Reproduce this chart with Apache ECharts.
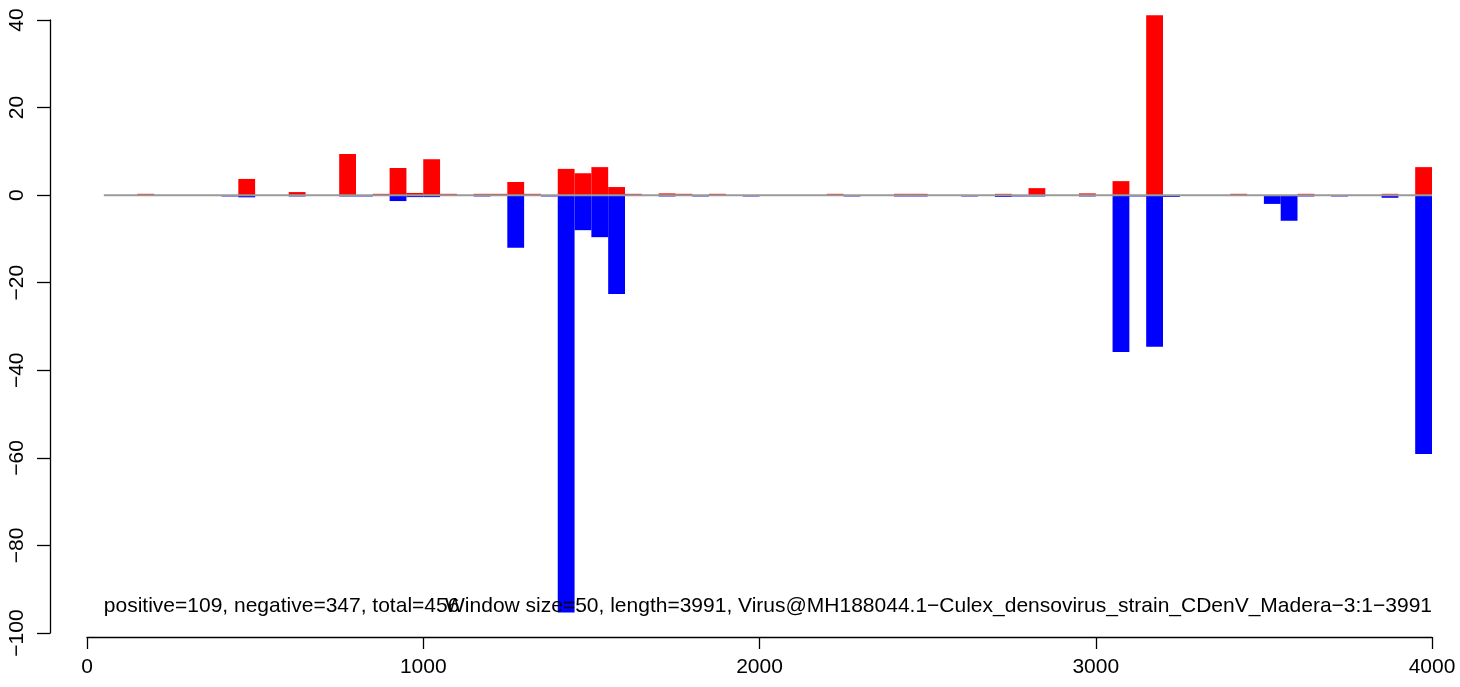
<!DOCTYPE html>
<html>
<head>
<meta charset="utf-8">
<script src="https://cdn.jsdelivr.net/npm/echarts@6/dist/echarts.min.js"></script>
<style>
html,body{margin:0;padding:0;background:#fff;}
#chart{width:1460px;height:687px;}
</style>
</head>
<body>
<div id="chart"></div>
<script>
// window starts (window size 50)
const windowStarts = [150, 400, 450, 600, 750, 800, 850, 900, 950, 1000, 1050, 1150, 1200, 1250, 1300, 1350,
  1400, 1450, 1500, 1550, 1600, 1700, 1750, 1800, 1850, 1950, 2200, 2250, 2400, 2450, 2600, 2700, 2750,
  2800, 2950, 3050, 3100, 3150, 3200, 3400, 3500, 3550, 3600, 3700, 3850, 3950];
const positiveValues = [0.3, 0, 3.7, 0.7, 9.4, 0, 0.3, 6.2, 0.5, 8.2, 0.3, 0.3, 0.3, 3.0, 0.3, 0,
  6.0, 5.0, 6.4, 1.85, 0.3, 0.4, 0.3, 0, 0.3, 0, 0.3, 0, 0.3, 0.3, 0, 0.3, 0,
  1.6, 0.4, 3.2, 0, 41.1, 0, 0.3, 0, 0, 0.3, 0, 0.3, 6.4];
const negativeValues = [0, -0.3, -0.5, -0.3, -0.3, -0.3, 0, -1.35, -0.45, -0.45, 0, -0.3, 0, -12.0, 0, -0.3,
  -95.3, -8.0, -9.6, -22.6, 0, -0.3, 0, -0.3, 0, -0.3, 0, -0.3, -0.3, -0.3, -0.3, -0.4, -0.3,
  -0.3, -0.3, -35.8, -0.3, -34.6, -0.4, 0, -2.0, -5.85, -0.3, -0.3, -0.6, -59.1];
const windowSize = 50;
const baselineX = [50, 4000];
const xTicks = [0, 1000, 2000, 3000, 4000];
const yTicks = [-100, -80, -60, -40, -20, 0, 20, 40];
const noteLeft = 'positive=109, negative=347, total=456';
const noteRight = 'Window size=50, length=3991, Virus@MH188044.1\u2212Culex_densovirus_strain_CDenV_Madera\u22123:1\u22123991';
const noteX = [50, 4000];
const noteY = -93.8;

const FONT = '"Liberation Sans", Arial, Helvetica, sans-serif';

function barSeries(values, color) {
  return {
    type: 'custom',
    data: windowStarts.map((s, i) => [s, values[i]]),
    renderItem: function (params, api) {
      const s = api.value(0), v = api.value(1);
      if (v === 0) return null;
      const p0 = api.coord([s, 0]);
      const p1 = api.coord([s + windowSize, v]);
      return {
        type: 'rect',
        shape: {x: p0[0], y: Math.min(p0[1], p1[1]), width: p1[0] - p0[0], height: Math.abs(p1[1] - p0[1])},
        style: {fill: color}
      };
    },
    silent: true, animation: false
  };
}

const chart = echarts.init(document.getElementById('chart'), null, {renderer: 'canvas'});
chart.setOption({
  animation: false,
  backgroundColor: '#ffffff',
  grid: {left: 87, right: 28, top: 20, bottom: 54, containLabel: false},
  xAxis: {
    type: 'value', min: 0, max: 4000, interval: 1000, offset: 4,
    axisLine: {show: true, onZero: false, lineStyle: {color: '#000', width: 1.3}},
    axisTick: {show: true, length: 12, lineStyle: {color: '#000', width: 1.3}},
    axisLabel: {color: '#000', fontSize: 21, fontFamily: FONT, margin: 20,
      formatter: v => xTicks.includes(v) ? String(v) : ''},
    splitLine: {show: false}
  },
  yAxis: {
    type: 'value', min: -100, max: 40, interval: 20, offset: 37,
    axisLine: {show: true, onZero: false, lineStyle: {color: '#000', width: 1.3}},
    axisTick: {show: true, length: 13, lineStyle: {color: '#000', width: 1.3}},
    axisLabel: {color: '#000', fontSize: 21, fontFamily: FONT, margin: 22, rotate: 90,
      formatter: v => yTicks.includes(v) ? String(v).replace('-', '\u2212') : ''},
    splitLine: {show: false}
  },
  series: [
    {
      type: 'line', data: baselineX.map(x => [x, 0]), symbol: 'none',
      lineStyle: {color: '#9a9a9a', width: 2}, silent: true
    },
    barSeries(positiveValues, '#ff0000'),
    barSeries(negativeValues, '#0000ff'),
    {
      type: 'custom',
      data: [[noteX[0], noteY, 0], [noteX[1], noteY, 1]],
      renderItem: function (params, api) {
        const p = api.coord([api.value(0), api.value(1)]);
        const right = api.value(2) === 1;
        return {
          type: 'text',
          x: p[0], y: p[1],
          style: {text: right ? noteRight : noteLeft, fill: '#000', font: '21px ' + FONT,
            align: right ? 'right' : 'left', verticalAlign: 'middle'}
        };
      },
      silent: true, z: 10
    }
  ]
});
</script>
</body>
</html>
